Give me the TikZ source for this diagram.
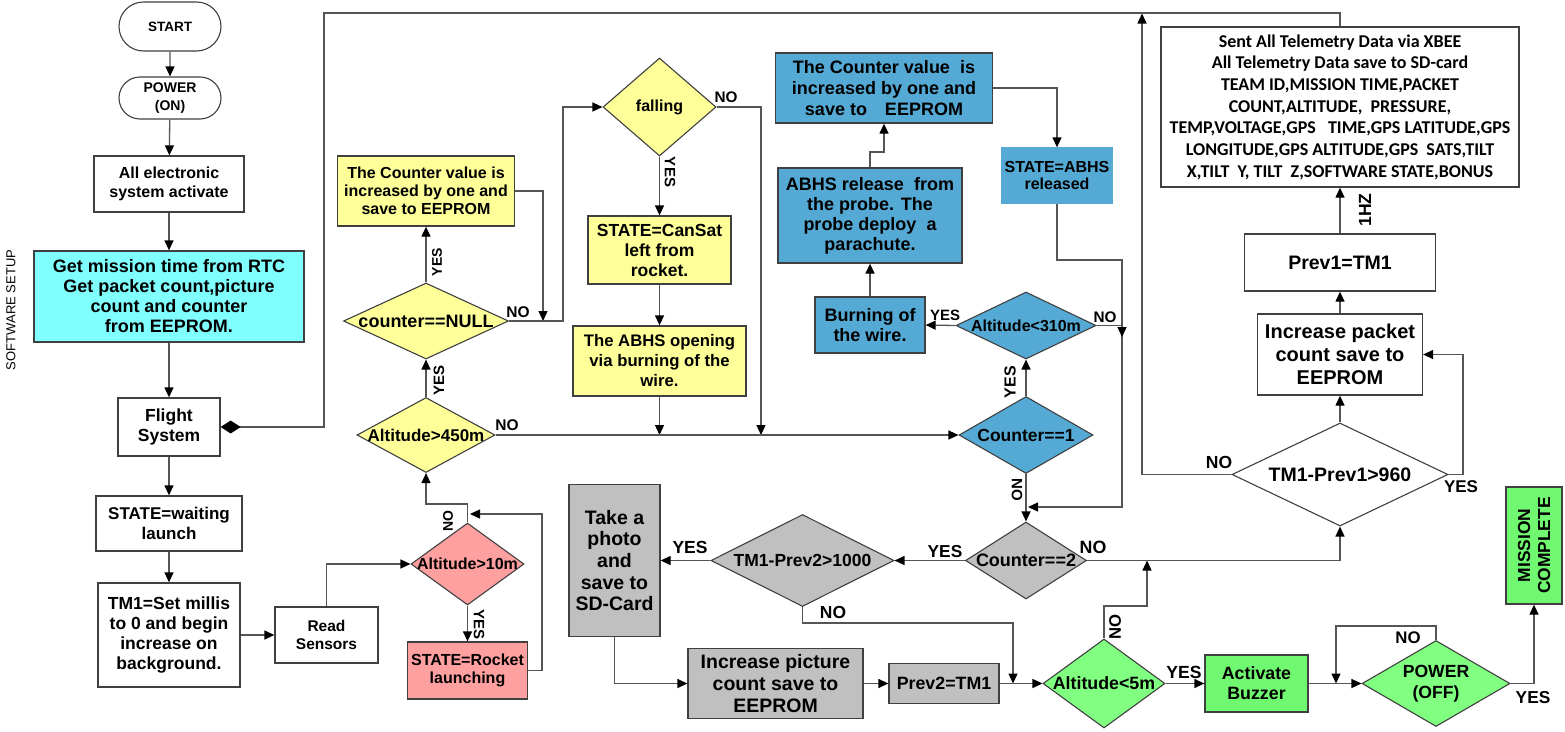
\documentclass[tikz,border=0pt]{standalone}
\usepackage{fontspec}
\setmainfont{Liberation Sans}
\newfontfamily\calib{Carlito}
\usetikzlibrary{arrows.meta,shapes.geometric,shapes.misc}
\newcommand{\fsz}[2]{\fontsize{#1}{#2}\selectfont}
\newcommand{\dtx}[1]{\makebox[0pt]{#1}}
\definecolor{bc}{HTML}{404040}
\definecolor{lc}{HTML}{555555}
\definecolor{cyanb}{HTML}{80FFFF}
\definecolor{yel}{HTML}{FFFF99}
\definecolor{pnk}{HTML}{FFA0A0}
\definecolor{blu}{HTML}{55AAD5}
\definecolor{gry}{HTML}{C0C0C0}
\definecolor{grn}{HTML}{80FF80}
\definecolor{grnb}{HTML}{70F870}
\begin{document}
\begin{tikzpicture}[x=1pt,y=-1pt,
 box/.style={draw=bc,line width=1.3pt,inner sep=0pt,align=center,rectangle},
 dia/.style={draw=bc,line width=1.1pt,inner sep=0pt,diamond,align=center},
 term/.style={draw=bc,line width=1.1pt,inner sep=0pt,rounded rectangle,align=center},
 arr/.style={draw=lc,line width=1.3pt,-{Triangle[length=10pt,width=9pt,color=black]}},
 ln/.style={draw=lc,line width=1.3pt},
 lab/.style={inner sep=0pt,text=black},
]
\fill[white] (0,0) rectangle (1565,731);
\useasboundingbox (0,0) rectangle (1565,731);

% ---------- left column ----------
\node[term,minimum width=102pt,minimum height=49pt,font=\fsz{13.5}{16}\bfseries] (start) at (170,26.5) {START};
\node[term,minimum width=102pt,minimum height=42pt,font=\fsz{14}{18}\bfseries] (pon) at (170,98) {POWER\\(ON)};
\node[box,minimum width=150pt,minimum height=56pt,font=\fsz{16}{18.7}\bfseries] (elec) at (169,184) {All electronic\\system activate};
\node[box,fill=cyanb,minimum width=270pt,minimum height=91pt,font=\fsz{18}{20}\bfseries] (rtc) at (169,296.5) {Get mission time from RTC\\Get packet count,picture\\count and counter\\from EEPROM.};
\node[box,minimum width=102pt,minimum height=58pt,font=\fsz{17.5}{20}\bfseries] (fs) at (169,427) {Flight\\System};
\node[box,minimum width=146pt,minimum height=55pt,font=\fsz{17}{19.7}\bfseries] (wait) at (169,523.5) {STATE=waiting\\launch};
\node[box,minimum width=142pt,minimum height=104pt,font=\fsz{17.5}{20}\bfseries] (tm1) at (169,635) {TM1=Set millis\\to 0 and begin\\increase on\\background.};
\node[box,minimum width=103pt,minimum height=56pt,font=\fsz{15.5}{18}\bfseries] (read) at (326.5,635) {Read\\Sensors};
\node[lab,rotate=90,font=\fsz{13}{15}] (soft) at (11,310) {SOFTWARE SETUP};

% ---------- pink / yellow ----------
\node[dia,fill=pnk,minimum width=113pt,minimum height=82pt,font=\fsz{16}{18}\bfseries] (a10) at (467.5,564) {\dtx{Altitude>10m}};
\node[box,fill=pnk,minimum width=120pt,minimum height=57pt,font=\fsz{16}{17.7}\bfseries] (rocket) at (467.5,670.5) {STATE=Rocket\\launching};
\node[dia,fill=yel,minimum width=138pt,minimum height=75pt,font=\fsz{17}{20}\bfseries] (a450) at (426,435) {\dtx{Altitude>450m}};
\node[dia,fill=yel,minimum width=165pt,minimum height=76pt,font=\fsz{18}{20}\bfseries] (cnull) at (426,321) {\dtx{counter==NULL}};
\node[box,fill=yel,minimum width=177pt,minimum height=70pt,font=\fsz{16}{18}\bfseries] (ycnt) at (426,191) {The Counter value is\\increased by one and\\save to EEPROM};
\node[dia,fill=yel,minimum width=113pt,minimum height=98pt,font=\fsz{16}{18}\bfseries] (fall) at (659.5,107) {\dtx{falling}};
\node[box,fill=yel,minimum width=143pt,minimum height=68pt,font=\fsz{17.5}{20}\bfseries] (cansat) at (659.5,250) {STATE=CanSat\\left from\\rocket.};
\node[box,fill=yel,minimum width=173pt,minimum height=70pt,font=\fsz{16.7}{20}\bfseries] (open) at (659.5,361) {The ABHS opening\\via burning of the\\wire.};

% ---------- blue ----------
\node[box,fill=blu,minimum width=217pt,minimum height=70pt,font=\fsz{18}{20.7}\bfseries] (bcnt) at (884,88) {The Counter value\ \ is\\increased by one and\\save to\quad EEPROM};
\node[box,fill=blu,minimum width=184pt,minimum height=95pt,font=\fsz{18}{20}\bfseries] (rel) at (870,215.5) {ABHS release\ \ from\\the probe. The\\probe deploy\ \ a\\parachute.};
\node[box,fill=blu,minimum width=110pt,minimum height=56pt,font=\fsz{18}{20.7}\bfseries] (burn) at (870,325) {Burning of\\the wire.};
\node[box,fill=blu,draw=blu,minimum width=110pt,minimum height=55pt,font=\fsz{16}{17.7}\bfseries] (abhs) at (1057,175.5) {STATE=ABHS\\released};
\node[dia,fill=blu,minimum width=140pt,minimum height=67pt,font=\fsz{16}{18}\bfseries] (a310) at (1026,325.5) {\dtx{Altitude<310m}};
\node[dia,fill=blu,minimum width=134pt,minimum height=77pt,font=\fsz{17.5}{20}\bfseries] (c1) at (1026,435) {\dtx{Counter==1}};

% ---------- gray ----------
\node[dia,fill=gry,minimum width=121pt,minimum height=77pt,font=\fsz{18}{20}\bfseries] (c2) at (1026,560.5) {\dtx{Counter==2}};
\node[dia,fill=gry,minimum width=183pt,minimum height=92pt,font=\fsz{17.5}{20}\bfseries] (tp2) at (802.5,560.5) {\dtx{TM1-Prev2>1000}};
\node[box,fill=gry,minimum width=91pt,minimum height=152pt,font=\fsz{19.5}{21.7}\bfseries] (photo) at (614.5,560.5) {Take a\\photo\\and\\save to\\SD-Card};
\node[box,fill=gry,minimum width=175pt,minimum height=70pt,font=\fsz{19.5}{21.7}\bfseries] (incpic) at (775.5,683.5) {Increase picture\\count save to\\EEPROM};
\node[box,fill=gry,minimum width=110pt,minimum height=40pt,font=\fsz{17.8}{20}\bfseries] (prev2) at (944,683.5) {Prev2=TM1};

% ---------- green ----------
\node[dia,fill=grn,minimum width=122pt,minimum height=89pt,font=\fsz{17.8}{20}\bfseries] (a5) at (1104,683.5) {\dtx{Altitude<5m}};
\node[box,fill=grnb,minimum width=103pt,minimum height=57pt,font=\fsz{17.8}{20}\bfseries] (buzz) at (1256.5,683.5) {Activate\\Buzzer};
\node[dia,fill=grn,minimum width=148pt,minimum height=86pt,font=\fsz{17.6}{20.7}\bfseries] (poff) at (1436,683.5) {\dtx{\begin{tabular}{@{}c@{}}POWER\\(OFF)\end{tabular}}};
\node[box,fill=grnb,rotate=90,minimum width=117pt,minimum height=56pt,font=\fsz{17.4}{20}\bfseries] (mc) at (1534,545.5) {MISSION\\COMPLETE};

% ---------- right column ----------
\node[dia,fill=white,minimum width=216pt,minimum height=103pt,font=\fsz{19.5}{22}\bfseries] (tp1) at (1340,474.5) {\dtx{TM1-Prev1>960}};
\node[box,minimum width=165pt,minimum height=81pt,font=\fsz{20}{22.7}\bfseries] (incpk) at (1340,354.5) {Increase packet\\count save to\\EEPROM};
\node[box,minimum width=191pt,minimum height=57pt,font=\fsz{19.5}{22}\bfseries] (prev1) at (1340,262.5) {Prev1=TM1};
\node[box,minimum width=358pt,minimum height=160pt,font=\calib\fsz{18}{21.7}\bfseries] (tel) at (1340,107) {Sent All Telemetry Data via XBEE\\All Telemetry Data save to SD-card\\TEAM ID,MISSION TIME,PACKET\\COUNT,ALTITUDE,\ \ PRESSURE,\\TEMP,VOLTAGE,GPS\ \ \ TIME,GPS LATITUDE,GPS\\LONGITUDE,GPS ALTITUDE,GPS\ \ SATS,TILT\\X,TILT\ \ Y, TILT\ \ Z,SOFTWARE STATE,BONUS};

% ---------- connectors ----------
\draw[arr] (start) -- (pon);
\draw[arr] (pon) -- (elec);
\draw[arr] (elec) -- (rtc);
\draw[arr] (rtc.south) -- (fs.north);
\draw[arr] (fs) -- (wait);
\draw[arr] (wait) -- (tm1);
\draw[arr] (tm1) -- (read);
\draw[arr] (read.north) |- (a10.west);
\draw[arr] (a10.south) -- (rocket.north);
\coordinate (rj) at (470,514);
\draw[arr] (rocket.east) -- (542,670.5) -- (542,514) -- (rj);
\draw[arr] (a10.north) -- (467.5,504) -- (426,504) -- (a450.south);
\draw[arr] (a450.north) -- (cnull.south);
\draw[arr] (cnull.north) -- (ycnt.south);
\draw[arr] (ycnt.east) -- (543,191) -- (543,321);
\draw[arr] (cnull.east) -- (563,321) -- (563,107) -- (fall.west);
\draw[arr] (fall.south) -- (cansat.north);
\draw[arr] (cansat.south) -- (open.north);
\draw[arr] (open.south) -- (659.5,435);
\draw[arr] (fall.east) -- (761,107) -- (761,435);
\draw[arr] (a450.east) -- (c1.west);
\draw[arr] (c1.north) -- (a310.south);
\draw[arr] (a310.west) -- (burn.east);
\draw[arr] (burn.north) -- (rel.south);
\draw[arr] (rel.north) -- (870,152) -- (884,152) -- (bcnt.south);
\draw[arr] (bcnt.east) -| (abhs.north);
\draw[arr] (abhs.south) -- (1057,260) -- (1122,260) -- (1122,507) -- (1028,507);
\draw[arr] (a310.east) -| (1122,337);
\draw[arr] (c1.south) -- (c2.north);
\draw[arr] (c2.west) -- (tp2.east);
\draw[arr] (tp2.west) -- (photo.east);
\draw[arr] (tp2.south) |- (1013,623) -- (1013,683.5);
\draw[arr] (photo.south) |- (incpic.west);
\draw[arr] (incpic.east) -- (prev2.west);
\draw[arr] (prev2.east) -- (a5.west);
\draw[arr] (a5.north) -- (1104,606) -- (1147,606) -- (1147,560.5);
\draw[arr] (c2.east) -| (tp1.south);
\draw[arr] (a5.east) -- (buzz.west);
\draw[arr] (buzz.east) -- (poff.west);
\draw[arr] (poff.north) -- (1436,626) -- (1336,626) -- (1336,683.5);
\draw[arr] (poff.east) -| (mc.west);
\draw[arr] (tp1.east) -- (1463,474.5) |- (incpk.east);
\draw[arr] (tp1.north) -- (incpk.south);
\draw[arr] (incpk.north) -- (prev1.south);
\draw[arr] (prev1.north) -- (tel.south);
\draw[arr] (tp1.west) -- (1142,474.5) -- (1142,13.5);
\draw[ln,{Diamond[length=20pt,width=13pt,color=black]}-] (fs.east) -- (324,427) -- (324,13) -- (1340,13) -- (tel.north);

% ---------- labels ----------
\node[lab,rotate=90,font=\fsz{14}{16}\bfseries] (l1) at (437,262) {YES};
\node[lab,rotate=90,font=\fsz{15}{17}\bfseries] (l2) at (439,380) {YES};
\node[lab,font=\fsz{15.5}{17}\bfseries] (l3) at (518,312) {NO};
\node[lab,font=\fsz{15.5}{17}\bfseries] (l4) at (507,425) {NO};
\node[lab,rotate=90,font=\fsz{14}{16}\bfseries] (l5) at (448,521) {NO};
\node[lab,rotate=-90,font=\fsz{15}{17}\bfseries] (l6) at (479,624) {YES};
\node[lab,font=\fsz{15.3}{17}\bfseries] (l7) at (726,97) {NO};
\node[lab,rotate=-90,font=\fsz{15}{17}\bfseries] (l8) at (670,172) {YES};
\node[lab,font=\fsz{15}{17}\bfseries] (l9) at (945,315) {YES};
\node[lab,font=\fsz{15.3}{17}\bfseries] (l10) at (1105,317) {NO};
\node[lab,rotate=90,font=\fsz{16}{18}\bfseries] (l11) at (1010,382) {YES};
\node[lab,rotate=-90,font=\fsz{15}{17}\bfseries] (l12) at (1017,490) {NO};
\node[lab,font=\fsz{17.3}{19}\bfseries] (l13) at (945,552) {YES};
\node[lab,font=\fsz{17.5}{19}\bfseries] (l14) at (690,547) {YES};
\node[lab,font=\fsz{17.4}{19}\bfseries] (l15) at (833,612) {NO};
\node[lab,font=\fsz{17.8}{19}\bfseries] (l16) at (1093,547) {NO};
\node[lab,rotate=90,font=\fsz{16.7}{19}\bfseries] (l17) at (1115,627) {NO};
\node[lab,font=\fsz{17.6}{19}\bfseries] (l18) at (1184,672) {YES};
\node[lab,font=\fsz{16.8}{19}\bfseries] (l19) at (1408,638) {NO};
\node[lab,font=\fsz{17.3}{19}\bfseries] (l20) at (1533,698) {YES};
\node[lab,font=\fsz{17.5}{19}\bfseries] (l21) at (1219,462) {NO};
\node[lab,font=\fsz{17}{19}\bfseries] (l22) at (1461,487) {YES};
\node[lab,rotate=90,font=\fsz{17.6}{19}\bfseries] (l23) at (1365,210) {1HZ};
\end{tikzpicture}
\end{document}
